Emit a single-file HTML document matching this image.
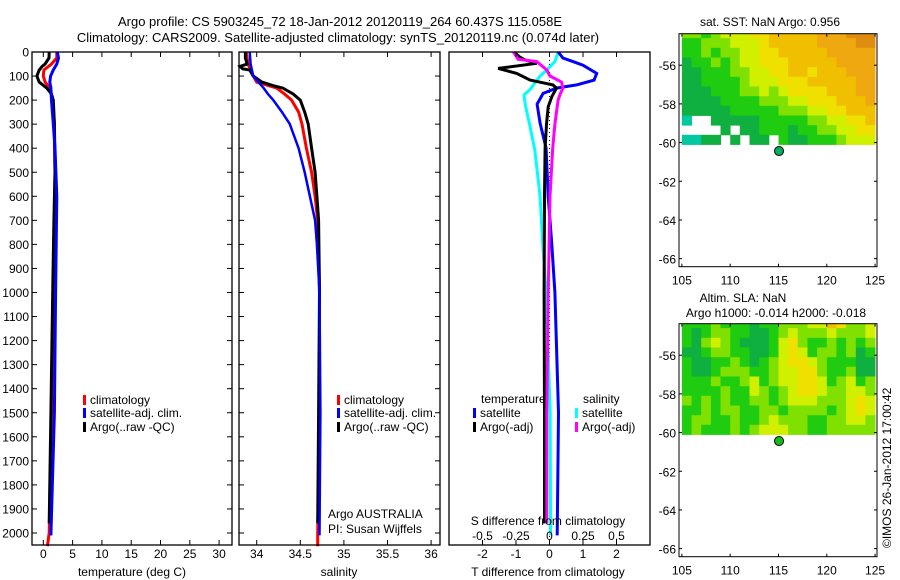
<!DOCTYPE html>
<html><head><meta charset="utf-8"><style>
body{margin:0;background:#fff;}
svg{display:block;font-family:"Liberation Sans",sans-serif;}
text{font-size:12px;fill:#000;}
</style></head><body>
<svg id="fig" width="900" height="580" viewBox="0 0 900 580">
<g id="titles">
<text x="340" y="26" text-anchor="middle" style="font-size:13px">Argo profile: CS 5903245_72 18-Jan-2012 20120119_264 60.437S 115.058E</text>
<text x="338" y="42" text-anchor="middle" style="font-size:13px">Climatology: CARS2009. Satellite-adjusted climatology: synTS_20120119.nc (0.074d later)</text>
</g>
<g id="g1"></g>
<g id="g2"></g>
<g id="g3"></g>
<g id="m1"></g>
<g id="m2"></g>
<text transform="translate(891,548) rotate(-90)" style="font-size:12px">©IMOS 26-Jan-2012 17:00:42</text>
</svg>
<script>
// ---- profile data ----
const tempDepthsArgo = [0,25,50,60,75,100,125,150,175,200,300,500,700,1000,1500,1960];
const tempArgo = [1.0,0.97,0.3,-0.2,-0.7,-1.1,-0.7,0.6,1.4,1.7,1.9,2.0,1.8,1.6,1.3,1.0];
const tempDepthsClim = [0,25,50,75,100,125,150,200,300,500,700,1000,1500,2000,2055];
const tempClim = [2.3,2.3,1.4,0.1,0.0,0.3,1.1,1.6,1.9,2.0,1.9,1.7,1.4,1.0,0.7];
const tempDepthsSat = [0,25,50,75,100,125,150,200,300,400,600,1000,1500,2010];
const tempSat = [2.4,2.6,2.3,1.7,1.25,1.1,1.3,1.4,1.7,2.0,2.3,2.1,1.9,1.3];

const salDepthsArgo = [0,25,50,60,70,75,100,125,140,150,175,200,250,300,400,500,600,700,1000,1500,1960];
const salArgo = [33.87,33.87,33.89,33.81,33.84,33.92,33.96,34.06,34.19,34.30,34.42,34.50,34.55,34.59,34.63,34.67,34.69,34.71,34.72,34.71,34.70];
const salDepthsClim = [0,50,100,125,150,175,200,250,300,400,500,600,700,1000,1500,2000,2055];
const salClim = [33.88,33.90,33.96,34.00,34.23,34.32,34.40,34.48,34.52,34.57,34.63,34.67,34.70,34.72,34.72,34.70,34.70];
const salDepthsSat = [0,50,100,125,150,175,200,250,300,400,500,600,700,800,1000,1500,2010];
const salSat = [33.92,33.93,33.96,34.02,34.08,34.13,34.19,34.29,34.38,34.48,34.55,34.61,34.67,34.69,34.72,34.73,34.72];

const dTDepthsSat = [0,25,40,55,89,117,137,150,172,217,296,400,600,800,1000,1500,2010];
const dTSat = [0.26,0.4,0.7,1.0,1.41,1.33,0.81,0.21,-0.19,-0.37,-0.28,-0.1,-0.04,0.07,0.16,0.27,0.23];
const dTDepthsArgo = [0,20,33,47,68,89,117,137,150,186,228,300,400,600,1000,1500,1960];
const dTArgo = [-1.06,-0.9,-0.73,-0.38,-1.53,-0.98,-0.58,0.1,0.21,0.07,-0.04,-0.09,-0.13,-0.15,-0.16,-0.15,-0.15];
const dSDepthsSat = [0,40,75,100,156,179,221,311,408,600,800,1000,1500,2010];
const dSSat = [0.066,0.04,-0.02,-0.07,-0.145,-0.19,-0.18,-0.145,-0.11,-0.07,-0.05,-0.025,0.005,0.008];
const dSDepthsArgo = [0,20,30,40,75,100,125,150,175,200,300,400,600,1000,1500,1960];
const dSArgo = [-0.27,-0.245,-0.235,-0.095,-0.02,0.003,0.09,0.10,0.08,0.064,0.04,0.024,0.004,-0.01,-0.02,-0.02];

const depthTicks = [0,100,200,300,400,500,600,700,800,900,1000,1100,1200,1300,1400,1500,1600,1700,1800,1900,2000];
const tempTicks = [0,5,10,15,20,25,30];
const salTicks = [34,34.5,35,35.5,36];
const salTickLabels = ["34","34.5","35","35.5","36"];
const dTTicks = [-2,-1,0,1,2];
const dSTicks = [-0.5,-0.25,0,0.25,0.5];
const dSTickLabels = ["-0.5","-0.25","0","0.25","0.5"];

// ---- map data (rows from north, 1° lon x 0.5° lat cells, 105..125E; null = no data) ----
const mapLons = [105,106,107,108,109,110,111,112,113,114,115,116,117,118,119,120,121,122,123,124];
const sstRows = [
[3,3,2,3,4,4,4,5,5,6,6,6,6,6,7,7,7,8,8,8],
[2,2,3,3,3,4,4,4,5,6,6,6,6,6,7,7,7,7,8,8],
[2,2,3,2,3,3,4,4,5,5,6,6,6,6,6,7,7,7,7,7],
[1,2,2,3,2,3,4,4,5,5,5,6,6,6,6,6,7,7,7,7],
[1,1,2,2,2,3,3,4,4,5,5,6,6,5,6,6,6,7,7,7],
[1,1,2,2,2,2,3,4,4,4,5,5,5,6,6,6,6,6,7,7],
[1,1,1,2,2,2,3,3,4,3,4,5,5,5,5,6,6,6,7,7],
[1,1,1,1,2,2,2,2,3,3,3,4,4,5,5,5,6,6,6,7],
[1,1,1,1,1,2,2,2,2,2,3,3,3,4,4,5,5,6,6,6],
[0,null,null,1,1,1,1,1,2,2,2,2,2,3,3,4,4,5,5,6],
[null,null,null,null,1,null,1,1,2,2,2,1,2,2,3,3,4,4,5,5],
[0,0,1,1,null,1,null,1,1,null,2,1,1,2,2,2,3,4,4,4]];
const slaRows = [
[2,2,2,3,2,2,2,1,2,2,3,3,3,4,4,6,5,3,3,4],
[2,1,2,3,3,2,2,1,1,2,3,4,3,3,3,4,3,3,3,4],
[2,1,3,4,3,2,1,1,1,2,4,5,3,2,2,3,2,3,2,3],
[1,1,2,3,3,2,2,1,1,2,4,5,4,2,3,3,2,3,1,2],
[2,1,1,2,2,3,2,1,2,3,4,5,5,4,3,2,2,2,1,1],
[2,1,1,2,3,3,3,2,2,3,4,4,5,5,3,2,2,3,1,1],
[2,2,2,3,2,2,3,4,2,3,4,4,5,5,4,2,3,4,2,3],
[2,2,2,2,3,2,2,4,3,2,3,4,5,5,4,3,3,4,4,3],
[3,2,3,2,3,2,2,3,3,2,3,4,4,4,3,3,3,4,5,4],
[2,2,3,2,3,3,2,2,3,3,2,3,3,3,3,2,3,4,5,4],
[2,3,3,2,2,3,2,2,3,4,3,3,3,2,2,3,3,4,4,3],
[2,3,2,2,2,3,2,3,4,4,4,3,3,2,2,3,3,3,3,3]];
const mapLatTicks = [-56,-58,-60,-62,-64,-66];
const mapLonTicks = [105,110,115,120,125];
const argoLon = 115.058, argoLat = -60.437;

const NS = "http://www.w3.org/2000/svg";
function mk(parent, tag, attrs){const e=document.createElementNS(NS,tag);for(const k in attrs)e.setAttribute(k,attrs[k]);parent.appendChild(e);return e;}
const Y0=52, YB=545, YS=0.2405;
const yD = d => Y0 + d*YS;
function xf(px0,px1,v0,v1){return v => px0 + (v-v0)/(v1-v0)*(px1-px0);}
const x1 = xf(32,232,-1.93,32.2), x2 = xf(239,440,33.797,36.102), x3 = xf(449,650,-3,3);
const xS = v => x3(v*4);

function frame(g,px0,px1,name){
  const r=mk(g,'rect',{x:px0,y:Y0,width:px1-px0,height:YB-Y0,fill:'none',stroke:'#000','stroke-width':1.3});
  
  
}
function line(g,ds,vs,xfun,color,w,name){
  let d='';
  for(let i=0;i<ds.length;i++){d+=(i?'L':'M')+xfun(vs[i]).toFixed(1)+' '+yD(ds[i]).toFixed(1);}
  const p=mk(g,'path',{d:d,fill:'none',stroke:color,'stroke-width':w,'stroke-linejoin':'miter'});
  
  
}
function yticks(g,px0,px1){
  depthTicks.forEach(d=>{mk(g,'line',{x1:px0,x2:px0+5,y1:yD(d),y2:yD(d),stroke:'#000'});mk(g,'line',{x1:px1-5,x2:px1,y1:yD(d),y2:yD(d),stroke:'#000'});});
}
function xticks(g,ticks,labels,xfun,top,bottom,ly){
  ticks.forEach((t,i)=>{
    const x=xfun(t);
    if(top) mk(g,'line',{x1:x,x2:x,y1:Y0,y2:Y0+5,stroke:'#000'});
    if(bottom) mk(g,'line',{x1:x,x2:x,y1:YB-5,y2:YB,stroke:'#000'});
    if(ly){const t2=mk(g,'text',{x:x,y:ly,'text-anchor':'middle'});t2.textContent=labels[i];
      
      }
  });
}
function legend(g,x,y,color,label){
  mk(g,'rect',{x:x,y:y-5,width:3,height:10,fill:color});
  const t=mk(g,'text',{x:x+7,y:y+4});t.textContent=label;
  
  
}
function txt(g,x,y,s,anchor,name){const t=mk(g,'text',{x:x,y:y,'text-anchor':anchor||'start'});t.textContent=s;
  
  return t;}

// Panel 1
const g1=document.getElementById('g1');
line(g1,tempDepthsClim,tempClim,x1,'#ff0000',3,'temp-climatology-line');
line(g1,tempDepthsArgo,tempArgo,x1,'#000',3,'temp-argo-line');
line(g1,tempDepthsSat,tempSat,x1,'#0000ff',3,'temp-satellite-line');
frame(g1,32,232,'temperature');
yticks(g1,32,232);
depthTicks.forEach(d=>txt(g1,29,yD(d)+4.5,String(d),'end','y-tick-label'));
xticks(g1,tempTicks,tempTicks.map(String),x1,true,true,558);
txt(g1,132,576,'temperature (deg C)','middle','x-axis-title');
legend(g1,83,400,'#ff0000','climatology');
legend(g1,83,413,'#0000ff','satellite-adj. clim.');
legend(g1,83,427,'#000','Argo(..raw -QC)');

// Panel 2
const g2=document.getElementById('g2');
line(g2,salDepthsClim,salClim,x2,'#ff0000',3,'sal-climatology-line');
line(g2,salDepthsArgo,salArgo,x2,'#000',3,'sal-argo-line');
line(g2,salDepthsSat,salSat,x2,'#0000ff',2.5,'sal-satellite-line');
frame(g2,239,440,'salinity');
yticks(g2,239,440);
xticks(g2,salTicks,salTickLabels,x2,true,true,558);
txt(g2,339,576,'salinity','middle','x-axis-title');
legend(g2,337,400,'#ff0000','climatology');
legend(g2,337,413,'#0000ff','satellite-adj. clim.');
legend(g2,337,427,'#000','Argo(..raw -QC)');
txt(g2,328,518,'Argo AUSTRALIA','start','argo-program-note');
txt(g2,328,533,'PI: Susan Wijffels','start','pi-note');

// Panel 3
const g3=document.getElementById('g3');
mk(g3,'line',{x1:x3(0),x2:x3(0),y1:Y0,y2:YB,stroke:'#000','stroke-dasharray':'1 3'});
line(g3,dSDepthsSat,dSSat,xS,'#00ffff',3,'dsal-satellite-line');
line(g3,dTDepthsSat,dTSat,x3,'#0000ff',3,'dtemp-satellite-line');
line(g3,dTDepthsArgo,dTArgo,x3,'#000',3,'dtemp-argo-line');
line(g3,dSDepthsArgo,dSArgo,xS,'#ff00ff',3,'dsal-argo-line');
frame(g3,449,650,'difference');
xticks(g3,dTTicks,dTTicks.map(String),x3,true,true,558);
dSTicks.forEach((t,i)=>txt(g3,xS(t),540,dSTickLabels[i],'middle','s-tick-label'));
txt(g3,548,525,'S difference from climatology','middle','s-axis-title');
txt(g3,548,576,'T difference from climatology','middle','x-axis-title');
txt(g3,481,403,'temperature','start','legend-header-temperature');
txt(g3,583,403,'salinity','start','legend-header-salinity');
legend(g3,473,413,'#0000ff','satellite');
legend(g3,473,427,'#000','Argo(-adj)');
legend(g3,575,413,'#00ffff','satellite');
legend(g3,575,427,'#ff00ff','Argo(-adj)');

// Maps
const palette=['#00c8a0','#10b040','#20cc10','#80e000','#d0f000','#f0e000','#f0c000','#f0a810','#e08c10'];
function drawMap(gid,top,rows,dotColor,titles){
  const g=document.getElementById(gid);
  const L=679,R=877,B=top+233;
  const mx=xf(L,R,104.7,125.2), my=v=>top+(-54.37-v)*19.34;
  rows.forEach((row,i)=>{
    const la0=-54.1-i*0.5, la1=la0-0.5;
    row.forEach((v,j)=>{
      if(v===null) return;
      const xa=mx(mapLons[j]), xb=mx(mapLons[j]+1);
      const ya=Math.max(top,my(la0)), yb=my(la1);
      const c=mk(g,'rect',{x:xa.toFixed(1),y:ya.toFixed(1),width:(xb-xa+0.4).toFixed(1),height:(yb-ya+0.4).toFixed(1),fill:palette[v]});
      
      
    });
  });
  mk(g,'rect',{x:R,y:top,width:4,height:120,fill:'#fff'});
  const fr=mk(g,'rect',{x:L,y:top,width:R-L,height:B-top,fill:'none',stroke:'#000','stroke-width':1});
  
  
  mapLatTicks.forEach(t=>{const y=my(t);mk(g,'line',{x1:L,x2:L+3,y1:y,y2:y,stroke:'#000'});mk(g,'line',{x1:R-3,x2:R,y1:y,y2:y,stroke:'#000'});
    txt(g,676,y+5,String(t),'end','map-lat-label');});
  mapLonTicks.forEach(t=>{const x=mx(t);mk(g,'line',{x1:x,x2:x,y1:B-3,y2:B,stroke:'#000'});mk(g,'line',{x1:x,x2:x,y1:top,y2:top+3,stroke:'#000'});
    txt(g,x,B+18,String(t),'middle','map-lon-label');});
  const dot=mk(g,'circle',{cx:mx(argoLon),cy:my(argoLat),r:4.5,fill:dotColor,stroke:'#000','stroke-width':1});
  
  
  titles.forEach(tt=>txt(g,tt[0],tt[1],tt[2],'middle','map-title'));
}
drawMap('m1',33.7,sstRows,'#00b060',[[770,26,'sat. SST: NaN Argo: 0.956']]);
drawMap('m2',323.7,slaRows,'#10c010',[[743,302,'Altim. SLA: NaN'],[776,317,'Argo h1000: -0.014 h2000: -0.018']]);
</script>
</body></html>
